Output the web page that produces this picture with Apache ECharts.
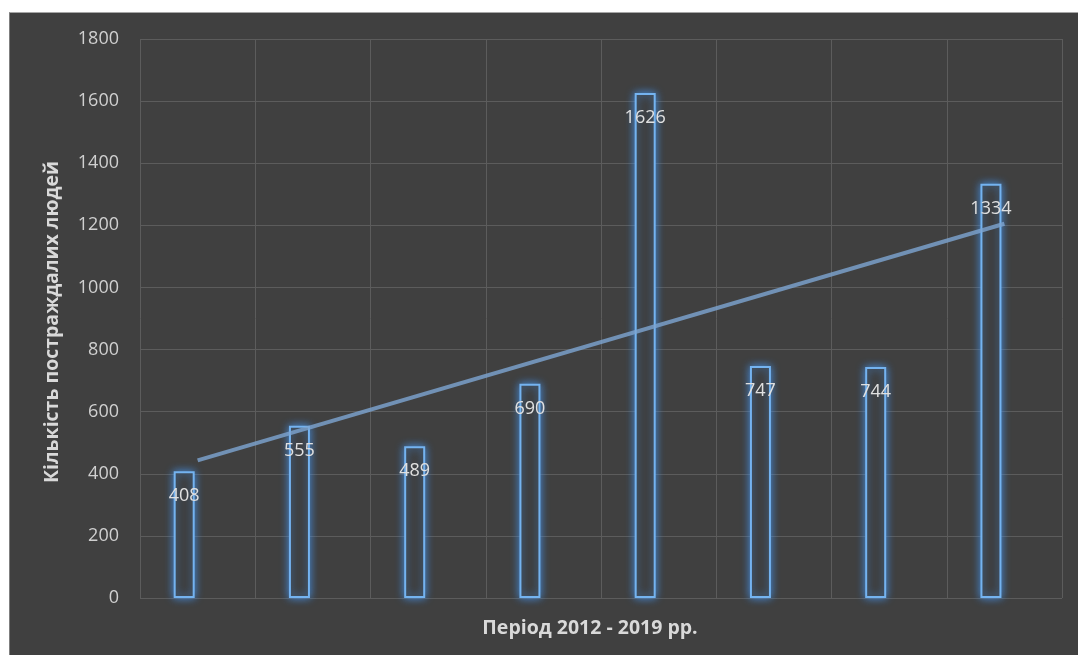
<!DOCTYPE html>
<html>
<head>
<meta charset="utf-8">
<script src="https://cdn.jsdelivr.net/npm/echarts@6/dist/echarts.min.js"></script>
<style>
html,body{margin:0;padding:0;background:#ffffff;width:1078px;height:655px;overflow:hidden;}
#frame{position:absolute;left:9px;top:12px;width:1069px;height:643px;background:#404040;border-top:1px solid #a6a6a6;border-left:1px solid #7f7f7f;box-sizing:border-box;}
#chart{width:100%;height:100%;}
</style>
</head>
<body>
<div id="frame"><div id="chart"></div></div>
<script>
const categories = ['2012', '2013', '2014', '2015', '2016', '2017', '2018', '2019'];
const victims = [408, 555, 489, 690, 1626, 747, 744, 1334];
const secondSeries = [0, 0, 0, 0, 0, 0, 0, 0];
const trendValues = [443, null, null, null, null, null, null, 1205];
const yAxisName = 'Кількість постраждалих людей';
const xAxisName = 'Період 2012 - 2019 рр.';

const FONT = '"Open Sans", "Noto Sans", sans-serif';
const chart = echarts.init(document.getElementById('chart'));
chart.setOption({
  backgroundColor: 'transparent',
  animation: false,
  grid: { left: 130, top: 26, right: 16, bottom: 57 },
  xAxis: {
    type: 'category',
    data: categories,
    boundaryGap: true,
    axisLine: { show: false },
    axisTick: { show: false },
    axisLabel: { show: false },
    splitLine: { show: true, lineStyle: { color: '#5c5c5c', width: 1 } },
    name: xAxisName,
    nameLocation: 'middle',
    nameGap: 20,
    nameTextStyle: { color: '#d9d9d9', fontSize: 19.5, fontWeight: 'bold', fontFamily: FONT, padding: [0, 22, 0, 0] }
  },
  yAxis: {
    type: 'value',
    min: 0,
    max: 1800,
    interval: 200,
    axisLine: { show: false },
    axisTick: { show: false },
    axisLabel: { color: '#d0d0d0', fontSize: 18, fontFamily: FONT, margin: 21, formatter: function (v) { return String(v); } },
    splitLine: { show: true, lineStyle: { color: '#5c5c5c', width: 1 } },
    name: yAxisName,
    nameLocation: 'middle',
    nameGap: 78,
    nameRotate: 90,
    nameTextStyle: { color: '#d9d9d9', fontSize: 19.5, fontWeight: 'bold', fontFamily: FONT, padding: [0, 7, 0, 0] }
  },
  series: [
    {
      type: 'bar',
      data: victims,
      barWidth: 21,
      barGap: '28%',
      itemStyle: {
        color: '#3e3e3e',
        borderColor: '#74b3f0',
        borderWidth: 2,
        shadowColor: 'rgba(70,150,240,0.9)',
        shadowBlur: 8
      },
      label: {
        show: true,
        position: 'insideTop',
        distance: 16,
        color: '#e0e0e0',
        fontSize: 18,
        fontFamily: FONT
      },
      z: 3
    },
    {
      type: 'bar',
      data: secondSeries,
      barWidth: 21,
      itemStyle: { color: 'transparent' },
      silent: true
    },
    {
      type: 'line',
      data: trendValues,
      connectNulls: true,
      symbol: 'none',
      lineStyle: { color: 'rgba(125,165,210,0.8)', width: 4 },
      z: 4
    }
  ]
});
</script>
</body>
</html>
